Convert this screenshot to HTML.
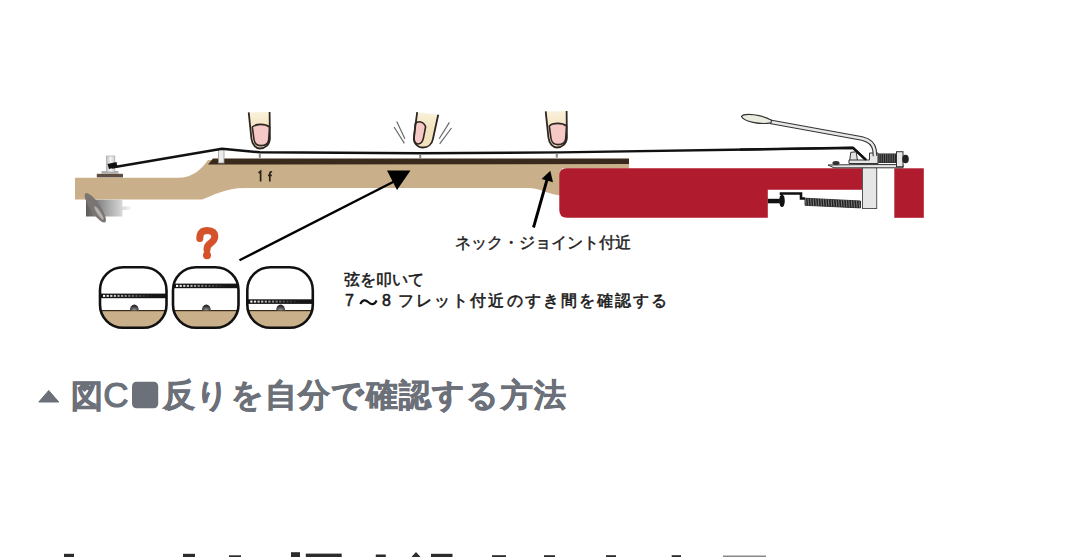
<!DOCTYPE html>
<html lang="ja"><head><meta charset="utf-8">
<style>
html,body{margin:0;padding:0;background:#fff;width:1080px;height:557px;overflow:hidden;position:relative;font-family:"Liberation Sans",sans-serif;}
svg{position:absolute;left:0;top:0;}
.t{position:absolute;white-space:nowrap;line-height:1;}
</style></head><body>
<svg width="1080" height="557" viewBox="0 0 1080 557">
  <defs>
    <linearGradient id="keyg" x1="0" x2="1" y1="0" y2="0">
      <stop offset="0" stop-color="#5a5a5a"/><stop offset="0.5" stop-color="#a8a8a8"/><stop offset="1" stop-color="#f4f4f4"/>
    </linearGradient>
    <linearGradient id="postg" x1="0" x2="1" y1="0" y2="0">
      <stop offset="0" stop-color="#bbb"/><stop offset="0.5" stop-color="#f4f4f4"/><stop offset="1" stop-color="#ccc"/>
    </linearGradient>
    <linearGradient id="skin" x1="0" x2="0" y1="0" y2="1">
      <stop offset="0" stop-color="#faf1dc"/><stop offset="0.45" stop-color="#f4e3bf"/><stop offset="1" stop-color="#f2e1bd"/>
    </linearGradient>
    <linearGradient id="skin2" gradientUnits="userSpaceOnUse" x1="0" x2="0" y1="112" y2="148">
      <stop offset="0" stop-color="#faf1dc"/><stop offset="0.45" stop-color="#f4e3bf"/><stop offset="1" stop-color="#f2e1bd"/>
    </linearGradient>
    <radialGradient id="fretg" cx="0.5" cy="0.9" r="0.8">
      <stop offset="0" stop-color="#999"/><stop offset="0.6" stop-color="#444"/><stop offset="1" stop-color="#222"/>
    </radialGradient>
    
  </defs>

  <!-- neck / headstock -->
  <path d="M75,177.8 L178,177.8 C192,177.8 201,170 208,160 L629,160 L629,168.5 L562,168.5 L562,195.5 C548,194.5 540,188 528,188 L245,188 C225,188 212,196 202,199.5 L75,199.5 Z" fill="#c9b08a"/>
  <!-- fretboard -->
  <path d="M208,164.5 L213,158.5 L629,158.5 L629,164 Z" fill="#3a2a1c"/>
  <!-- tuner key below headstock -->
  <path d="M86,199.8 L122.4,199.8 L122.4,206.5 L130.5,206.5 L130.5,210 L122.4,210 L122.4,216.6 L86,216.6 Z" fill="url(#keyg)"/>
  <ellipse cx="95.3" cy="207.8" rx="5" ry="17.5" transform="rotate(-34 95.3 207.8)" fill="#7a7572"/>
  <ellipse cx="99" cy="213" rx="1.8" ry="8" transform="rotate(-34 99 213)" fill="#b5b0ac"/>
  <!-- tuner post -->
  <rect x="96.8" y="173.8" width="26.2" height="3.6" fill="#5e4e42"/>
  <rect x="101.5" y="171" width="17" height="3" fill="#b0b0b0"/>
  <rect x="106.3" y="156" width="8.5" height="16" fill="url(#postg)" stroke="#aaa" stroke-width="0.7"/>
  <path d="M107.5,164 L116.5,162 L117.5,167 L109,169 Z" fill="#111"/>
  <!-- nut -->
  <rect x="218.5" y="149.5" width="5.5" height="13.5" fill="#ececec" stroke="#999" stroke-width="0.8"/>

  <!-- string -->
  <polyline points="112,167.5 222,148.8 260,152.3 420,153.3 560,152.4 853,147.8 866,160" fill="none" stroke="#111" stroke-width="2.4" stroke-linejoin="round"/>
  <!-- 1f -->
  <path d="M258.6,173 L260.6,171.3 L260.6,181.6" fill="none" stroke="#2a2015" stroke-width="1.7"/>
  <path d="M272,172 C270.5,171.3 269.8,172.5 269.8,174 L269.8,181.6 M268,175.3 L271.8,175.3" fill="none" stroke="#2a2015" stroke-width="1.7"/>
  <!-- fret dots -->
  <rect x="258.8" y="153.8" width="2" height="4" fill="#888"/>
  <rect x="419.2" y="154.5" width="2" height="3.8" fill="#888"/>
  <rect x="555.8" y="153.6" width="2" height="4" fill="#888"/>

  <!-- fingers -->
  <g transform="translate(260,148.5)">
      <path d="M-11.3,-36.1 L-8.6,-10 C-7.8,-3.5 -4,0 0,0 C5,0 9.6,-3.5 9.9,-10 L9.6,-36.5 Z" fill="url(#skin)"/>
      <path d="M-7.7,-21.5 C-4,-25 5,-25 9.6,-21.5 L8.7,-9 C8.2,-4.8 4.8,-2.9 1,-2.9 C-2.5,-2.9 -5.4,-5 -6,-9 Z" fill="#f6c9c6" stroke="#2e2622" stroke-width="1.6"/>
      <path d="M-11.3,-36.1 L-8.6,-10 C-7.8,-3.5 -4,0 0,0 C5,0 9.6,-3.5 9.9,-10 L9.6,-36.5" fill="none" stroke="#2e2622" stroke-width="1.8"/>
    </g>
  <g transform="translate(557,147.5)">
      <path d="M-11.3,-36.1 L-8.6,-10 C-7.8,-3.5 -4,0 0,0 C5,0 9.6,-3.5 9.9,-10 L9.6,-36.5 Z" fill="url(#skin)"/>
      <path d="M-7.7,-21.5 C-4,-25 5,-25 9.6,-21.5 L8.7,-9 C8.2,-4.8 4.8,-2.9 1,-2.9 C-2.5,-2.9 -5.4,-5 -6,-9 Z" fill="#f6c9c6" stroke="#2e2622" stroke-width="1.6"/>
      <path d="M-11.3,-36.1 L-8.6,-10 C-7.8,-3.5 -4,0 0,0 C5,0 9.6,-3.5 9.9,-10 L9.6,-36.5" fill="none" stroke="#2e2622" stroke-width="1.8"/>
    </g>
  <path d="M417.2,112.2 L414,136 C413,142.5 417,147.5 423,147.5 C428,147.5 432,144 433,138.8 L438.2,114.7 Z" fill="url(#skin2)"/>
  <path d="M415.3,123.8 C417.5,120.5 424,121 425.6,127 L423.4,138.2 C422.6,142 420.3,144.2 417.6,144 C414.8,143.6 413.8,141 414.2,137 Z" fill="#f6c9c6" stroke="#2e2622" stroke-width="1.6"/>
  <path d="M417.2,112.2 L414,136 C413,142.5 417,147.5 423,147.5 C428,147.5 432,144 433,138.8 L438.2,114.7" fill="none" stroke="#2e2622" stroke-width="1.8"/>
  <!-- motion lines -->
  <g stroke="#6a6a6a" stroke-width="1.2">
    <line x1="396.7" y1="121.4" x2="404.9" y2="138.8"/>
    <line x1="394.1" y1="127" x2="404.4" y2="143.4"/>
    <line x1="449.4" y1="122.4" x2="439.2" y2="138.8"/>
    <line x1="451.5" y1="128" x2="439.7" y2="143.9"/>
  </g>

  <!-- red body -->
  <path d="M567,168.3 L862.5,168.3 L862.5,189.7 L767.8,189.7 L767.8,217.8 L567,217.8 Q559.3,217.8 559.3,210 L559.3,176 Q559.3,168.3 567,168.3 Z" fill="#b01b2e"/>
  <rect x="894.3" y="168.3" width="29.5" height="49.5" fill="#b01b2e"/>
  <!-- bridge block -->
  <rect x="862.5" y="166" width="14.2" height="42.5" fill="#e6e6e6" stroke="#555" stroke-width="1"/>
  <!-- spring -->
  <path d="M805,198.2 L860.5,201 L860.5,207.9 L805,205.3 Z" fill="#222" stroke="#111" stroke-width="0.8"/>
  <g stroke="#b8b8b8" stroke-width="0.6">
    <line x1="805.5" y1="198.2" x2="806.1" y2="205.3"/>
    <line x1="808.0" y1="198.4" x2="808.6" y2="205.4"/>
    <line x1="810.6" y1="198.5" x2="811.2" y2="205.6"/>
    <line x1="813.1" y1="198.6" x2="813.7" y2="205.7"/>
    <line x1="815.7" y1="198.7" x2="816.3" y2="205.8"/>
    <line x1="818.2" y1="198.9" x2="818.8" y2="205.9"/>
    <line x1="820.8" y1="199.0" x2="821.4" y2="206.0"/>
    <line x1="823.3" y1="199.1" x2="823.9" y2="206.2"/>
    <line x1="825.9" y1="199.2" x2="826.5" y2="206.3"/>
    <line x1="828.4" y1="199.4" x2="829.0" y2="206.4"/>
    <line x1="831.0" y1="199.5" x2="831.6" y2="206.5"/>
    <line x1="833.5" y1="199.6" x2="834.1" y2="206.6"/>
    <line x1="836.1" y1="199.8" x2="836.7" y2="206.7"/>
    <line x1="838.6" y1="199.9" x2="839.2" y2="206.9"/>
    <line x1="841.2" y1="200.0" x2="841.8" y2="207.0"/>
    <line x1="843.7" y1="200.1" x2="844.3" y2="207.1"/>
    <line x1="846.3" y1="200.3" x2="846.9" y2="207.2"/>
    <line x1="848.8" y1="200.4" x2="849.4" y2="207.3"/>
    <line x1="851.4" y1="200.5" x2="852.0" y2="207.5"/>
    <line x1="853.9" y1="200.6" x2="854.5" y2="207.6"/>
    <line x1="856.5" y1="200.8" x2="857.1" y2="207.7"/>
    <line x1="859.0" y1="200.9" x2="859.6" y2="207.8"/>
  </g>
  <!-- claw -->
  <path d="M781,195 L781,193.5 L801,193.5 L801,198.5 L805,198.5" fill="none" stroke="#111" stroke-width="2.6"/>
  <rect x="767.8" y="198.8" width="12" height="4.5" fill="#111"/>
  <ellipse cx="782" cy="200.7" rx="2.8" ry="6.3" fill="#111"/>

  <!-- bridge top -->
  <path d="M828,165 L862,164.6 L903,164.6 L903,167.8 L834,167.8 Z" fill="#e8e8e8" stroke="#333" stroke-width="1"/>
  <ellipse cx="836" cy="163" rx="3.6" ry="2" fill="#333"/>
  <path d="M849.3,163 L850.8,152.3 L856.2,151.8 L857.8,163 Z" fill="#e2e2e2" stroke="#333" stroke-width="1"/>
  <path d="M849,163.5 L878,163.5 L878,153 L869.5,153 L869.5,160 L849,160 Z" fill="#e6e6e6" stroke="#333" stroke-width="1"/>
  <rect x="878" y="153.5" width="18.5" height="9.5" fill="#222"/>
  <g stroke="#888" stroke-width="0.7">
    <line x1="879.0" y1="153.8" x2="879.0" y2="162.6"/>
    <line x1="881.2" y1="153.8" x2="881.2" y2="162.6"/>
    <line x1="883.4" y1="153.8" x2="883.4" y2="162.6"/>
    <line x1="885.6" y1="153.8" x2="885.6" y2="162.6"/>
    <line x1="887.8" y1="153.8" x2="887.8" y2="162.6"/>
    <line x1="890.0" y1="153.8" x2="890.0" y2="162.6"/>
    <line x1="892.2" y1="153.8" x2="892.2" y2="162.6"/>
    <line x1="894.4" y1="153.8" x2="894.4" y2="162.6"/>
  </g>
  <rect x="896.5" y="151.7" width="6.5" height="15" fill="#e8e8e8" stroke="#333" stroke-width="1"/>
  <ellipse cx="905.5" cy="159" rx="3.3" ry="4.3" fill="#222"/>
  <!-- string back over saddle -->
  <polyline points="740,149.57 853,147.8 866,160" fill="none" stroke="#111" stroke-width="2.2" stroke-linejoin="round"/>
  <!-- tremolo bar -->
  <path d="M770,121.8 L862,138.5 Q873,141 874.5,150 L875,156" fill="none" stroke="#333" stroke-width="4.6" stroke-linecap="butt"/>
  <path d="M770,121.8 L862,138.5 Q873,141 874.5,150 L875,156" fill="none" stroke="#e8e8e8" stroke-width="2.4"/>
  <path d="M741.5,116.5 C744,112.5 762,114.5 771.5,120.3 L771,122.8 C760,125 744,121.5 741.5,116.5 Z" fill="#ebebdf" stroke="#333" stroke-width="1.2"/>

  <!-- arrows -->
  <line x1="239.5" y1="260.3" x2="395" y2="181" stroke="#000" stroke-width="2.4"/>
  <polygon points="410.5,170.5 387,170.5 397,190" fill="#000"/>
  <line x1="533.5" y1="227.5" x2="547.5" y2="178" stroke="#000" stroke-width="2.9"/>
  <polygon points="550.3,170.8 541.6,178.9 553,182.2" fill="#000"/>

  <!-- question mark -->
  <path d="M199.8,238.5 C199.8,232 203,230.5 207.5,230.5 C212.5,230.5 214.8,233 214.8,236.5 C214.8,240.5 211.5,242.5 209.5,244 C207.7,245.5 207,246.5 207,249.5" fill="none" stroke="#d4532a" stroke-width="7" stroke-linecap="round"/>
  <circle cx="207" cy="255.3" r="4" fill="#d4532a"/>

  <!-- three detail circles -->
  <clipPath id="cp1"><rect x="100" y="267.2" width="66.5" height="60.6" rx="23"/></clipPath>
  <g clip-path="url(#cp1)">
  <rect x="100" y="267.2" width="66.5" height="60.6" fill="#fff"/>
  <rect x="100" y="310.5" width="66.5" height="17.3" fill="#c9b08a"/>
  <rect x="100" y="310" width="66.5" height="1.2" fill="#3a2a1c"/>
  <path d="M129.8,310.5 A4.5,6 0 0 1 138.8,310.5 Z" fill="url(#fretg)"/>
  <rect x="100" y="293.6" width="66.5" height="4.6" fill="#151515"/>
  <rect x="103.0" y="294.9" width="2.2" height="2" fill="#fff" opacity="1.00"/>
  <rect x="106.6" y="294.9" width="2.2" height="2" fill="#fff" opacity="0.91"/>
  <rect x="110.2" y="294.9" width="2.2" height="2" fill="#fff" opacity="0.83"/>
  <rect x="113.8" y="294.9" width="2.2" height="2" fill="#fff" opacity="0.75"/>
  <rect x="117.4" y="294.9" width="2.2" height="2" fill="#fff" opacity="0.67"/>
  <rect x="121.0" y="294.9" width="2.2" height="2" fill="#fff" opacity="0.59"/>
  <rect x="124.6" y="294.9" width="2.2" height="2" fill="#fff" opacity="0.51"/>
  <rect x="128.2" y="294.9" width="2.2" height="2" fill="#fff" opacity="0.44"/>
  <rect x="131.8" y="294.9" width="2.2" height="2" fill="#fff" opacity="0.36"/>
  <rect x="135.4" y="294.9" width="2.2" height="2" fill="#fff" opacity="0.29"/>
  <rect x="139.0" y="294.9" width="2.2" height="2" fill="#fff" opacity="0.22"/>
  <rect x="142.6" y="294.9" width="2.2" height="2" fill="#fff" opacity="0.16"/>
  <rect x="146.2" y="294.9" width="2.2" height="2" fill="#fff" opacity="0.10"/>
  <rect x="149.8" y="294.9" width="2.2" height="2" fill="#fff" opacity="0.04"/>
  <rect x="153.4" y="294.9" width="2.2" height="2" fill="#fff" opacity="0.00"/>
  </g>
  <rect x="100" y="267.2" width="66.5" height="60.6" rx="23" fill="none" stroke="#111" stroke-width="2.6"/>
  <clipPath id="cp2"><rect x="173" y="267.2" width="65.5" height="60.6" rx="23"/></clipPath>
  <g clip-path="url(#cp2)">
  <rect x="173" y="267.2" width="65.5" height="60.6" fill="#fff"/>
  <rect x="173" y="310.5" width="65.5" height="17.3" fill="#c9b08a"/>
  <rect x="173" y="310" width="65.5" height="1.2" fill="#3a2a1c"/>
  <path d="M201.8,310.5 A4.5,6 0 0 1 210.8,310.5 Z" fill="url(#fretg)"/>
  <rect x="173" y="283.6" width="65.5" height="4.6" fill="#151515"/>
  <rect x="176.0" y="284.9" width="2.2" height="2" fill="#fff" opacity="1.00"/>
  <rect x="179.6" y="284.9" width="2.2" height="2" fill="#fff" opacity="0.91"/>
  <rect x="183.2" y="284.9" width="2.2" height="2" fill="#fff" opacity="0.83"/>
  <rect x="186.8" y="284.9" width="2.2" height="2" fill="#fff" opacity="0.75"/>
  <rect x="190.4" y="284.9" width="2.2" height="2" fill="#fff" opacity="0.67"/>
  <rect x="194.0" y="284.9" width="2.2" height="2" fill="#fff" opacity="0.59"/>
  <rect x="197.6" y="284.9" width="2.2" height="2" fill="#fff" opacity="0.51"/>
  <rect x="201.2" y="284.9" width="2.2" height="2" fill="#fff" opacity="0.44"/>
  <rect x="204.8" y="284.9" width="2.2" height="2" fill="#fff" opacity="0.36"/>
  <rect x="208.4" y="284.9" width="2.2" height="2" fill="#fff" opacity="0.29"/>
  <rect x="212.0" y="284.9" width="2.2" height="2" fill="#fff" opacity="0.22"/>
  <rect x="215.6" y="284.9" width="2.2" height="2" fill="#fff" opacity="0.16"/>
  <rect x="219.2" y="284.9" width="2.2" height="2" fill="#fff" opacity="0.10"/>
  <rect x="222.8" y="284.9" width="2.2" height="2" fill="#fff" opacity="0.04"/>
  <rect x="226.4" y="284.9" width="2.2" height="2" fill="#fff" opacity="0.00"/>
  </g>
  <rect x="173" y="267.2" width="65.5" height="60.6" rx="23" fill="none" stroke="#111" stroke-width="2.6"/>
  <clipPath id="cp3"><rect x="247.3" y="267.2" width="65.5" height="60.6" rx="23"/></clipPath>
  <g clip-path="url(#cp3)">
  <rect x="247.3" y="267.2" width="65.5" height="60.6" fill="#fff"/>
  <rect x="247.3" y="310.5" width="65.5" height="17.3" fill="#c9b08a"/>
  <rect x="247.3" y="310" width="65.5" height="1.2" fill="#3a2a1c"/>
  <path d="M276.1,310.5 A4.5,6 0 0 1 285.1,310.5 Z" fill="url(#fretg)"/>
  <rect x="247.3" y="299.3" width="65.5" height="4.6" fill="#151515"/>
  <rect x="250.3" y="300.6" width="2.2" height="2" fill="#fff" opacity="1.00"/>
  <rect x="253.9" y="300.6" width="2.2" height="2" fill="#fff" opacity="0.91"/>
  <rect x="257.5" y="300.6" width="2.2" height="2" fill="#fff" opacity="0.83"/>
  <rect x="261.1" y="300.6" width="2.2" height="2" fill="#fff" opacity="0.75"/>
  <rect x="264.7" y="300.6" width="2.2" height="2" fill="#fff" opacity="0.67"/>
  <rect x="268.3" y="300.6" width="2.2" height="2" fill="#fff" opacity="0.59"/>
  <rect x="271.9" y="300.6" width="2.2" height="2" fill="#fff" opacity="0.51"/>
  <rect x="275.5" y="300.6" width="2.2" height="2" fill="#fff" opacity="0.44"/>
  <rect x="279.1" y="300.6" width="2.2" height="2" fill="#fff" opacity="0.36"/>
  <rect x="282.7" y="300.6" width="2.2" height="2" fill="#fff" opacity="0.29"/>
  <rect x="286.3" y="300.6" width="2.2" height="2" fill="#fff" opacity="0.22"/>
  <rect x="289.9" y="300.6" width="2.2" height="2" fill="#fff" opacity="0.16"/>
  <rect x="293.5" y="300.6" width="2.2" height="2" fill="#fff" opacity="0.10"/>
  <rect x="297.1" y="300.6" width="2.2" height="2" fill="#fff" opacity="0.04"/>
  <rect x="300.7" y="300.6" width="2.2" height="2" fill="#fff" opacity="0.00"/>
  </g>
  <rect x="247.3" y="267.2" width="65.5" height="60.6" rx="23" fill="none" stroke="#111" stroke-width="2.6"/>

  <path d="M360.3,304 C362.5,299.5 365.5,299.5 368.5,302.2 C371.5,305 374.5,305 376.6,300.5" fill="none" stroke="#111" stroke-width="2.1"/>
  <!-- caption glyphs -->
  <path d="M48.75,390.5 L58.75,402 L38.75,402 Z" fill="#6b7079" stroke="#6b7079" stroke-width="1" stroke-linejoin="round"/>
  <rect x="132" y="381.8" width="26.2" height="26.4" rx="4.5" fill="#6b7079"/>

  <!-- bottom heading tops -->
  <rect x="64" y="553.8" width="10.0" height="3.2" fill="#2c2c2c"/>
  <rect x="183" y="553.8" width="12.0" height="3.2" fill="#2c2c2c"/>
  <rect x="229" y="555.3" width="12.0" height="1.7" fill="#2c2c2c"/>
  <rect x="291" y="552.2" width="9.0" height="4.8" fill="#2c2c2c"/>
  <rect x="305.8" y="553.6" width="35.9" height="3.4" fill="#2c2c2c"/>
  <rect x="375.8" y="554.5" width="10.0" height="2.5" fill="#2c2c2c"/>
  <rect x="431" y="553.8" width="21.5" height="3.2" fill="#2c2c2c"/>
  <rect x="492" y="555.2" width="14.0" height="1.8" fill="#2c2c2c"/>
  <rect x="544" y="555.2" width="11.0" height="1.8" fill="#2c2c2c"/>
  <rect x="606" y="555.2" width="10.0" height="1.8" fill="#2c2c2c"/>
  <rect x="671.7" y="555.2" width="9.3" height="1.8" fill="#2c2c2c"/>
  <path d="M411.5,557 L416,552 L420.5,557 Z" fill="#2c2c2c"/>
  <rect x="723" y="555.5" width="43" height="1.5" fill="#888"/>
</svg>

<div class="t" style="left:455px;top:234.5px;font-size:16px;color:#222;-webkit-text-stroke:0.45px #222;">ネック・ジョイント付近</div>
<div class="t" style="left:344px;top:272px;font-size:16px;color:#1a1a1a;-webkit-text-stroke:0.55px #1a1a1a;">弦を叩いて</div>
<div class="t" style="left:345px;top:293px;font-size:16px;color:#1a1a1a;-webkit-text-stroke:0.55px #1a1a1a;">7</div>
<div class="t" style="left:382px;top:293px;font-size:16px;color:#1a1a1a;-webkit-text-stroke:0.55px #1a1a1a;">8</div>
<div class="t" style="left:398px;top:293px;font-size:16px;color:#1a1a1a;-webkit-text-stroke:0.55px #1a1a1a;letter-spacing:2.1px;">フレット付近のすき間を確認する</div>
<div class="t" id="cap1" style="left:70.5px;top:379.5px;font-size:32px;font-weight:bold;color:#6b7079;-webkit-text-stroke:0.7px #6b7079;">図</div>
<div class="t" id="capC" style="left:103.3px;top:376.6px;font-size:35px;color:#6b7079;-webkit-text-stroke:1.1px #6b7079;">C</div>
<div class="t" id="cap2" style="left:163px;top:379.5px;font-size:31.5px;letter-spacing:1.25px;-webkit-text-stroke:0.7px #6b7079;font-weight:bold;color:#6b7079;">反りを自分で確認する方法</div>
</body></html>
